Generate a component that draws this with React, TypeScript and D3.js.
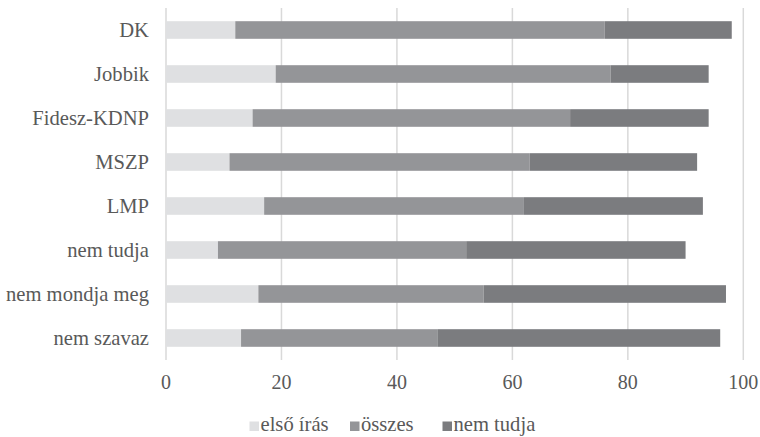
import React from "react";
import * as d3 from "d3";

// Categories, top to bottom
const categories = [
  "DK",
  "Jobbik",
  "Fidesz-KDNP",
  "MSZP",
  "LMP",
  "nem tudja",
  "nem mondja meg",
  "nem szavaz",
];

// Series values (percent), stacked left to right
const elsoIras = [12, 19, 15, 11, 17, 9, 16, 13];
const osszes = [64, 58, 55, 52, 45, 43, 39, 34];
const nemTudja = [22, 17, 24, 29, 31, 38, 42, 49];

const seriesNames = ["első írás", "összes", "nem tudja"];
const seriesColors = ["#dfe0e2", "#949598", "#7b7c7f"];

const xTicks = [0, 20, 40, 60, 80, 100];

const W = 760;
const H = 437;
const FONT = '"Liberation Serif", "Times New Roman", Times, serif';
const TEXT = "#595959";
const textStyle = { fontFamily: FONT, fontSize: "20px" };
const labelStyle = { fontFamily: FONT, fontSize: "20.6px" };

export default function App() {
  const x = d3.scaleLinear().domain([0, 100]).range([166, 743.3]);
  const y = d3
    .scaleBand<string>()
    .domain(categories)
    .range([8, 360])
    .paddingInner(0.6)
    .paddingOuter(0.3);

  const rows = categories.map((c, i) => ({
    cat: c,
    a: elsoIras[i],
    b: osszes[i],
    c: nemTudja[i],
  }));
  const stack = d3.stack<any>().keys(["a", "b", "c"]);
  const layers = stack(rows);

  // Legend layout: marker + label per entry
  const legendX = [249.5, 350, 442.5];
  const legendY = 431;

  return (
    <svg
      width={W}
      height={H}
      style={{ position: "absolute", left: 0, top: 0, background: "#fff" }}
    >
      {/* vertical gridlines */}
      {xTicks.map((t) => (
        <line
          key={"g" + t}
          x1={x(t)}
          x2={x(t)}
          y1={8}
          y2={360}
          stroke="#d9d9d9"
          strokeWidth={1.5}
        />
      ))}

      {/* stacked bars */}
      {layers.map((layer, li) => (
        <g key={"l" + li} fill={seriesColors[li]}>
          {layer.map((d, i) => (
            <rect
              key={i}
              x={x(d[0])}
              y={y(categories[i])}
              width={x(d[1]) - x(d[0])}
              height={y.bandwidth()}
            />
          ))}
        </g>
      ))}

      {/* category labels */}
      {categories.map((c) => (
        <text
          key={"c" + c}
          x={149}
          y={(y(c) as number) + y.bandwidth() / 2 + 6.6}
          textAnchor="end"
          style={labelStyle}
          fill={TEXT}
        >
          {c}
        </text>
      ))}

      {/* x tick labels */}
      {xTicks.map((t) => (
        <text
          key={"t" + t}
          x={x(t)}
          y={389}
          textAnchor="middle"
          style={textStyle}
          fill={TEXT}
        >
          {t}
        </text>
      ))}

      {/* legend */}
      {seriesNames.map((n, i) => (
        <g key={"lg" + i}>
          <rect
            x={legendX[i]}
            y={legendY - 9.5}
            width={9.5}
            height={9.5}
            fill={seriesColors[i]}
          />
          <text x={legendX[i] + 11} y={legendY} style={labelStyle} fill={TEXT}>
            {n}
          </text>
        </g>
      ))}
    </svg>
  );
}
